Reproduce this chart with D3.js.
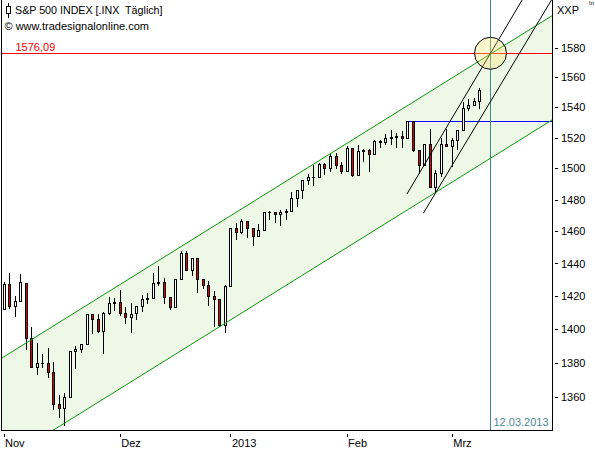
<!DOCTYPE html>
<html><head><meta charset="utf-8">
<script src="https://cdn.jsdelivr.net/npm/d3@7"></script>
<style>
body{margin:0;background:#fff}
svg{display:block;font-family:"Liberation Sans",Arial,sans-serif;font-size:11px}
</style>
</head><body><svg id="c" width="595" height="450"></svg>
<script>
// ---------- data ----------
const dates = [
 "01.11.12","02.11.12","05.11.12","06.11.12","07.11.12","08.11.12","09.11.12","12.11.12","13.11.12","14.11.12","15.11.12","16.11.12","19.11.12","20.11.12","21.11.12","23.11.12","26.11.12","27.11.12","28.11.12","29.11.12","30.11.12",
 "03.12.12","04.12.12","05.12.12","06.12.12","07.12.12","10.12.12","11.12.12","12.12.12","13.12.12","14.12.12","17.12.12","18.12.12","19.12.12","20.12.12","21.12.12","24.12.12","26.12.12","27.12.12","28.12.12","31.12.12",
 "02.01.13","03.01.13","04.01.13","07.01.13","08.01.13","09.01.13","10.01.13","11.01.13","14.01.13","15.01.13","16.01.13","17.01.13","18.01.13","22.01.13","23.01.13","24.01.13","25.01.13","28.01.13","29.01.13","30.01.13","31.01.13",
 "01.02.13","04.02.13","05.02.13","06.02.13","07.02.13","08.02.13","11.02.13","12.02.13","13.02.13","14.02.13","15.02.13","19.02.13","20.02.13","21.02.13","22.02.13","25.02.13","26.02.13","27.02.13","28.02.13",
 "01.03.13","04.03.13","05.03.13","06.03.13","07.03.13","08.03.13"];
const open = [
 1412.20,1427.59,1414.02,1417.26,1428.27,1394.53,1377.55,1379.86,1380.03,1374.64,1355.41,1353.36,1359.88,1386.82,1387.79,1391.03,1409.15,1406.29,1398.77,1409.96,1415.95,
 1416.34,1409.46,1407.05,1409.43,1413.95,1418.07,1418.55,1427.84,1428.48,1419.45,1413.54,1430.47,1446.79,1435.81,1443.67,1430.15,1426.66,1419.83,1418.10,1402.43,
 1426.19,1462.42,1459.37,1466.47,1461.89,1457.15,1461.02,1472.12,1472.05,1470.67,1472.33,1472.63,1480.95,1485.98,1492.56,1494.81,1494.82,1502.96,1500.18,1507.84,1501.96,
 1498.11,1513.17,1495.71,1511.29,1512.12,1509.39,1517.93,1517.01,1519.43,1520.33,1521.38,1519.79,1530.94,1511.95,1502.42,1515.60,1487.85,1496.94,1515.99,
 1514.68,1518.20,1525.20,1539.79,1541.46,1544.26];
const high = [
 1428.35,1434.27,1419.90,1433.38,1428.27,1401.23,1391.39,1384.87,1388.81,1380.13,1360.62,1362.03,1386.89,1389.77,1391.25,1409.16,1409.15,1409.01,1410.31,1419.70,1418.86,
 1423.73,1413.14,1415.56,1413.95,1420.34,1421.64,1434.27,1438.59,1431.36,1419.45,1430.67,1448.00,1447.75,1443.70,1443.67,1430.15,1429.42,1422.80,1418.10,1426.74,
 1462.43,1465.47,1467.94,1466.47,1461.89,1464.73,1472.30,1472.75,1472.05,1473.31,1473.96,1485.16,1485.98,1492.56,1496.13,1502.27,1503.26,1503.23,1509.35,1509.94,1504.19,
 1514.41,1513.17,1514.96,1512.53,1512.90,1518.31,1518.31,1522.29,1524.69,1523.14,1524.24,1530.94,1530.94,1511.95,1515.64,1525.84,1498.99,1520.08,1525.34,
 1519.99,1525.27,1543.47,1545.25,1545.78,1552.48];
const low = [
 1412.20,1412.91,1408.13,1417.26,1388.14,1377.51,1373.03,1377.19,1371.39,1352.50,1348.05,1343.35,1359.88,1377.04,1386.39,1391.03,1397.68,1398.03,1385.43,1409.04,1411.63,
 1408.46,1403.65,1398.23,1405.93,1410.90,1415.64,1418.55,1426.76,1416.00,1411.88,1413.54,1430.47,1435.80,1432.82,1422.58,1424.66,1414.76,1401.80,1401.58,1398.11,
 1426.19,1455.53,1458.99,1456.62,1451.64,1457.15,1461.02,1467.58,1465.69,1463.76,1467.60,1472.63,1475.81,1481.16,1489.90,1489.46,1494.82,1496.33,1498.09,1500.11,1496.76,
 1498.11,1495.02,1495.71,1504.71,1498.49,1509.39,1513.61,1515.61,1515.93,1514.02,1514.14,1519.79,1511.41,1497.29,1502.42,1487.85,1485.01,1494.88,1514.46,
 1501.48,1512.29,1525.20,1538.11,1541.46,1539.29];
const close = [
 1427.59,1414.20,1417.26,1428.39,1394.53,1377.51,1379.85,1380.03,1374.53,1355.49,1353.33,1359.88,1386.89,1387.81,1391.03,1409.15,1406.29,1398.94,1409.93,1415.95,1416.18,
 1409.46,1407.05,1409.28,1413.94,1418.07,1418.55,1427.84,1428.48,1419.45,1413.58,1430.36,1446.79,1435.81,1443.69,1430.15,1426.66,1419.83,1418.10,1402.43,1426.19,
 1462.42,1459.37,1466.47,1461.89,1457.15,1461.02,1472.12,1472.05,1470.68,1472.34,1472.63,1480.94,1485.98,1492.56,1494.81,1494.82,1502.96,1500.18,1507.84,1501.96,1498.11,
 1513.17,1495.71,1511.29,1512.12,1509.39,1517.93,1517.01,1519.43,1520.33,1521.38,1519.79,1530.94,1511.95,1502.42,1515.60,1487.85,1496.94,1515.99,1514.68,
 1518.20,1525.20,1539.79,1541.46,1544.26,1551.18];

const yTicks = [1360,1380,1400,1420,1440,1460,1480,1500,1520,1540,1560,1580];
const monthLabels = ["Nov","Dez","2013","Feb","Mrz"];

const upperChannel = [[0,1383.3],[88,1575.6]];
const lowerChannel = [[10,1342.5],[88,1506.6]];
const trendA = [[72.9,1483.6],[88,1576.09]];
const trendB = [[75.86,1471.4],[86,1531.6]];
const targetLevel = 1576.09, targetLabel = "1576,09";
const resistLevel = 1530.94, resistStart = 72.65;
const cursorIdx = 88, cursorLabel = "12.03.2013";
const title = "S&P 500 INDEX [.INX  Täglich]";
const copyright = "© www.tradesignalonline.com";

// month ticks at first trading day of each month
const monthPos = dates.map((d,i)=>i).filter(i=> i===0 || dates[i].slice(3,5)!==dates[i-1].slice(3,5));

// ---------- layout ----------
const P = {l:1.5, r:552.5, t:0, b:430};
const x = d3.scaleLinear().domain([0,88]).range([3.5, 3.5+88*5.534]);
const y = d3.scaleLog().domain([1612.57,1340.6]).range([P.t,P.b]);
const svg = d3.select("#c");

svg.append("defs").append("clipPath").attr("id","pc")
  .append("rect").attr("x",P.l).attr("y",P.t).attr("width",P.r-P.l).attr("height",P.b-P.t);
const g = svg.append("g").attr("clip-path","url(#pc)");

function lineAt(pts, px){
  const x1=x(pts[0][0]), y1=y(pts[0][1]), x2=x(pts[1][0]), y2=y(pts[1][1]);
  return y1 + (y2-y1)*(px-x1)/(x2-x1);
}

const xl=P.l, xr=P.r;
g.append("path")
  .attr("d", `M${xl},${lineAt(upperChannel,xl)}L${xr},${lineAt(upperChannel,xr)}L${xr},${lineAt(lowerChannel,xr)}L${xl},${lineAt(lowerChannel,xl)}Z`)
  .attr("fill","#edf8e7");

// red target line
const ty = Math.round(y(targetLevel))+0.5;
g.append("line").attr("x1",P.l).attr("x2",P.r).attr("y1",ty).attr("y2",ty)
  .attr("stroke","#ff0000").attr("stroke-width",1).attr("shape-rendering","crispEdges");
// blue resistance
const ry = Math.round(y(resistLevel))+0.5;
g.append("line").attr("x1",x(resistStart)).attr("x2",P.r).attr("y1",ry).attr("y2",ry)
  .attr("stroke","#0000ff").attr("stroke-width",1).attr("shape-rendering","crispEdges");
// cursor
const cx = Math.round(x(cursorIdx))+0.5;
g.append("line").attr("x1",cx).attr("x2",cx).attr("y1",P.t).attr("y2",P.b)
  .attr("stroke","#3f8c8c").attr("shape-rendering","crispEdges");

// candles
const idx = d3.range(dates.length);
const cg = g.append("g").attr("shape-rendering","crispEdges");
idx.forEach(i=>{
  const px = Math.round(x(i));
  cg.append("line").attr("x1",px+0.5).attr("x2",px+0.5)
    .attr("y1",Math.round(y(high[i]))).attr("y2",Math.round(y(low[i]))+1)
    .attr("stroke","#000");
  const top = Math.round(y(Math.max(open[i],close[i])));
  const bot = Math.round(y(Math.min(open[i],close[i])));
  if (bot-top < 1) {
    cg.append("line").attr("x1",px-1).attr("x2",px+2).attr("y1",top+0.5).attr("y2",top+0.5).attr("stroke","#000");
  } else {
    cg.append("rect").attr("x",px-0.5).attr("y",top+0.5).attr("width",2).attr("height",bot-top)
      .attr("fill", close[i]<open[i] ? "#e00000" : "#ffffff").attr("stroke","#000");
  }
});

// channel lines
[upperChannel, lowerChannel].forEach(pts=>{
  g.append("line").attr("x1",xl).attr("y1",lineAt(pts,xl)).attr("x2",xr).attr("y2",lineAt(pts,xr))
    .attr("stroke","#0a9a0a").attr("stroke-width",1);
});
// trend lines
[trendA, trendB].forEach(pts=>{
  const sx = x(pts[0][0]);
  g.append("line").attr("x1",sx).attr("y1",y(pts[0][1])).attr("x2",xr).attr("y2",lineAt(pts,xr))
    .attr("stroke","#000").attr("stroke-width",1);
});

// target circle
svg.append("circle").attr("cx",cx).attr("cy",y(targetLevel)).attr("r",16)
  .attr("fill","rgb(245,228,110)").attr("fill-opacity",0.35).attr("stroke","#000").attr("stroke-width",1);

// frame
svg.append("path").attr("d",`M${P.l},${P.t}V${P.b+0.5}H${P.r}V${P.t}`)
  .attr("fill","none").attr("stroke","#000").attr("shape-rendering","crispEdges");

// y axis
const ya = svg.append("g").attr("transform",`translate(555,0)`)
  .call(d3.axisRight(y).tickValues(yTicks).tickSize(3).tickPadding(3).tickFormat(d3.format("d")));
ya.select(".domain").remove();
ya.selectAll("text").attr("font-family","Liberation Sans, Arial, sans-serif").attr("font-size",11).attr("fill","#000");
ya.selectAll("line").attr("stroke","#000").attr("shape-rendering","crispEdges");

// x axis
const xa = svg.append("g").attr("transform",`translate(0,434)`)
  .call(d3.axisBottom(x).tickValues(monthPos).tickSize(3).tickPadding(2).tickFormat((d,i)=>monthLabels[i]));
xa.select(".domain").remove();
xa.selectAll("text").attr("text-anchor","start").attr("x",1)
  .attr("font-family","Liberation Sans, Arial, sans-serif").attr("font-size",11).attr("fill","#000");
xa.selectAll("line").attr("stroke","#000").attr("shape-rendering","crispEdges");

// texts
svg.append("text").attr("x",557).attr("y",13.5).text("XXP").attr("fill","#000");
svg.append("text").attr("x",589).attr("y",5).attr("font-size",6).text("In").attr("fill","#000");
svg.append("text").attr("x",15).attr("y",13.5).attr("font-size",10.7).style("white-space","pre").text(title).attr("fill","#000");
svg.append("text").attr("x",4.5).attr("y",29.5).text(copyright).attr("fill","#000");
svg.append("text").attr("x",15.5).attr("y",50.5).text(targetLabel).attr("fill","#ff0000");
svg.append("text").attr("x",cx+3).attr("y",425.5).text(cursorLabel).attr("fill","#4a8c8c");

// title icon
const ic = svg.append("g").attr("shape-rendering","crispEdges");
ic.append("line").attr("x1",8.5).attr("x2",8.5).attr("y1",3).attr("y2",18).attr("stroke","#000");
ic.append("rect").attr("x",6.5).attr("y",6.5).attr("width",4).attr("height",7).attr("fill","#fff").attr("stroke","#000");
</script>
</body></html>
